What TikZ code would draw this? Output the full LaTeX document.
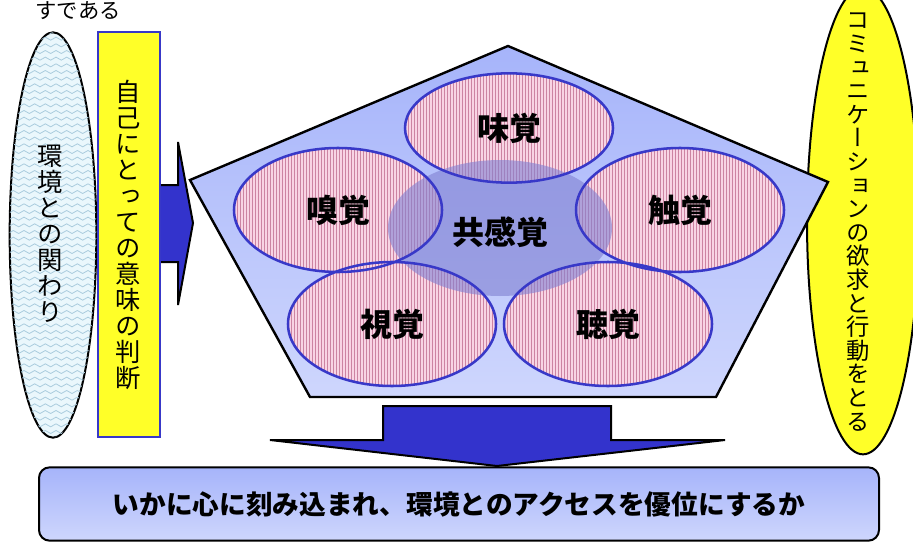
\documentclass[tikz,border=0pt]{standalone}
\usepackage{fontspec}
\newfontfamily\jp{Noto Sans CJK JP}
\newfontfamily\jpv[Vertical=Alternates]{Noto Sans CJK JP}
\usetikzlibrary{shapes.geometric,patterns,patterns.meta}
\definecolor{arrblue}{RGB}{51,51,204}
\definecolor{rimblue}{RGB}{56,56,200}
\definecolor{pinkbg}{RGB}{248,212,228}
\definecolor{pinkline}{RGB}{204,132,162}
\definecolor{cyanbg}{RGB}{234,247,252}
\definecolor{wavec}{RGB}{170,204,222}
\definecolor{yel}{RGB}{255,255,40}
\definecolor{penttop}{RGB}{166,180,250}
\definecolor{pentbot}{RGB}{206,214,253}
\definecolor{kyo}{RGB}{128,128,210}
\pgfdeclarepatternformonly{waves}{\pgfqpoint{-1pt}{-1pt}}{\pgfqpoint{9pt}{6pt}}{\pgfqpoint{8pt}{5pt}}{%
  \pgfsetlinewidth{0.6pt}%
  \pgfpathmoveto{\pgfqpoint{0pt}{2.5pt}}%
  \pgfpathcurveto{\pgfqpoint{1.3pt}{4pt}}{\pgfqpoint{2.7pt}{4pt}}{\pgfqpoint{4pt}{2.5pt}}%
  \pgfpathcurveto{\pgfqpoint{5.3pt}{1pt}}{\pgfqpoint{6.7pt}{1pt}}{\pgfqpoint{8pt}{2.5pt}}%
  \pgfusepath{stroke}}
\tikzset{
  vert/.style={font=\jpv\fontsize{19}{19.5}\selectfont, align=center, inner sep=0pt},
  vertR/.style={font=\jpv\fontsize{17.5}{17.7}\selectfont, align=center, inner sep=0pt},
  sensefill/.style={ellipse, inner sep=0pt, minimum width=156pt, minimum height=93pt,
    fill=pinkbg, postaction={pattern={Lines[angle=90,distance=2.25pt,line width=0.65pt]}, pattern color=pinkline}},
  senserim/.style={ellipse, inner sep=0pt, minimum width=156pt, minimum height=93pt,
    draw=rimblue, line width=1.9pt, font=\jp\bfseries\fontsize{24}{28}\selectfont},
  blockarrow/.style={fill=arrblue, draw=black, line width=1.5pt, line join=miter},
}
\begin{document}
\begin{tikzpicture}[x=0.75pt,y=-0.75pt]
\useasboundingbox (0,0) rectangle (913,542);

% top fragment text
\node[font=\jp\fontsize{16}{19}\selectfont, inner sep=0pt] (frag) at (78,11) {すである};

% left ellipse
\node[ellipse, inner sep=0pt, minimum width=65pt, minimum height=304pt,
  fill=cyanbg, postaction={pattern=waves, pattern color=wavec}, draw=black, line width=1.5pt] (env) at (53,235) {};
\node[vert] (envt) at (50,234) {環\\境\\と\\の\\関\\わ\\り};

% right arrow
\draw[blockarrow] (160,185) -- (178,185) -- (178,142) -- (193,223) -- (178,305) -- (178,262) -- (160,262);

% yellow rectangle
\node[draw=rimblue, line width=2pt, fill=yel, minimum width=46.5pt, minimum height=303.75pt, inner sep=0pt] (judge) at (129,234.5) {};
\node[vert] (judget) at (128,235) {自\\己\\に\\と\\っ\\て\\の\\意\\味\\の\\判\\断};

% right yellow ellipse
\node[ellipse, inner sep=0pt, minimum width=84pt, minimum height=350pt, fill=yel, draw=black, line width=1.5pt] (act) at (863,221) {};
\node[vertR] (actt) at (858,222) {コ\\ミ\\ュ\\ニ\\ケ\\ー\\シ\\ョ\\ン\\の\\欲\\求\\と\\行\\動\\を\\と\\る};

% pentagon
\draw[line width=1.8pt, top color=penttop, bottom color=pentbot, line join=miter]
  (508,46) -- (828,182) -- (716,397) -- (310,397) -- (190,180) -- cycle;

% sense ellipses (fill)
\node[sensefill, minimum height=82pt] (mikakuF) at (509,128) {};
\node[sensefill] (kyuF) at (338,210) {};
\node[sensefill] (shokuF) at (680,210) {};
\node[sensefill] (shiF) at (392,324) {};
\node[sensefill] (choF) at (608,324) {};

% synesthesia ellipse
\node[ellipse, inner sep=0pt, minimum width=168pt, minimum height=102pt, fill=kyo, fill opacity=0.6] (kyokan) at (500,228) {};

% sense ellipses (rims + labels)
\node[senserim, minimum height=82pt] (mikaku) at (509,128) {\raisebox{-6pt}{味覚}};
\node[senserim] (kyu) at (338,210) {\raisebox{-2pt}{嗅覚}};
\node[senserim] (shoku) at (680,210) {\raisebox{-2pt}{触覚}};
\node[senserim] (shi) at (392,324) {\raisebox{-2pt}{視覚}};
\node[senserim] (cho) at (608,324) {\raisebox{-2pt}{聴覚}};
\node[font=\jp\bfseries\fontsize{24}{28}\selectfont, inner sep=0pt] (kyokant) at (500,232) {共感覚};

% bottom box
\node[draw=black, line width=1.5pt, rounded corners=8pt, top color=penttop, bottom color=pentbot,
  minimum width=630pt, minimum height=55pt, inner sep=0pt,
  font=\jp\bfseries\fontsize{20}{24}\selectfont] (result) at (459,504) {いかに心に刻み込まれ、環境とのアクセスを優位にするか};

% down arrow
\draw[blockarrow] (383,406) -- (611,406) -- (611,440) -- (725,440) -- (497,466) -- (270,440) -- (383,440) -- cycle;

\end{tikzpicture}
\end{document}
